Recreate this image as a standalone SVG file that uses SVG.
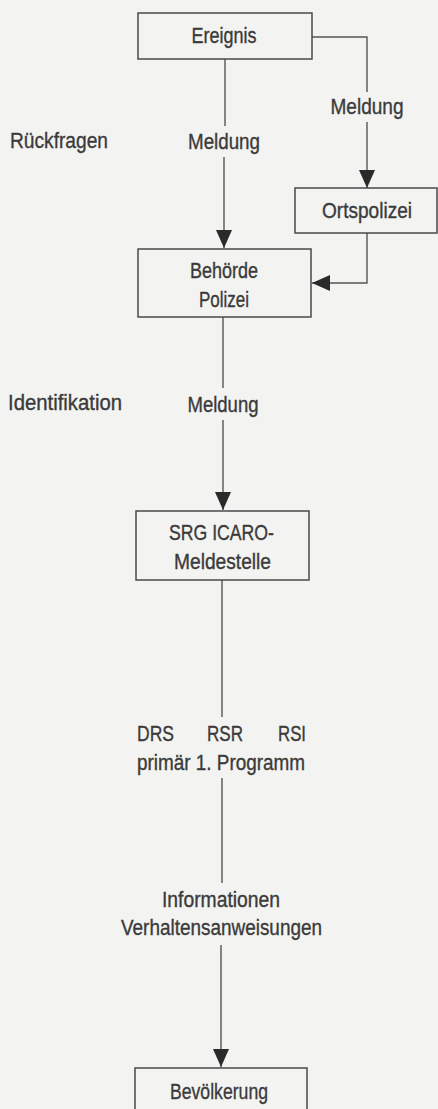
<svg xmlns="http://www.w3.org/2000/svg" width="438" height="1109" viewBox="0 0 438 1109">
<style>
.box{fill:none;stroke:#4a4a4a;stroke-width:1.5}
.ln{fill:none;stroke:#555;stroke-width:1.4}
text{font-family:"Liberation Sans","Noto Sans",sans-serif;font-size:22px;fill:#3a3a3a;stroke:#3a3a3a;stroke-width:0.35}
.c{text-anchor:middle}
</style>
<defs>
<marker id="ah" viewBox="0 0 18 16" refX="18" refY="8" markerWidth="18" markerHeight="16" markerUnits="userSpaceOnUse" orient="auto">
<path d="M0,0 L18,8 L0,16 z" fill="#2a2a2a"/>
</marker>
</defs>
<rect x="0" y="0" width="438" height="1109" fill="#f3f3f1"/>
<g id="connectors">
<path class="ln" d="M312,37 H367 V92"/>
<path class="ln" d="M367,122 V188" marker-end="url(#ah)"/>
<path class="ln" d="M225,59 V126"/>
<path class="ln" d="M224,157 V248" marker-end="url(#ah)"/>
<path class="ln" d="M367,233 V283 H312" marker-end="url(#ah)"/>
<path class="ln" d="M223,317 V388"/>
<path class="ln" d="M223,420 V510" marker-end="url(#ah)"/>
<path class="ln" d="M222,580 V717"/>
<path class="ln" d="M222,778 V883"/>
<path class="ln" d="M221,945 V1067" marker-end="url(#ah)"/>
</g>
<g id="labels">
<text x="367" y="114" class="c" textLength="73" lengthAdjust="spacingAndGlyphs">Meldung</text>
<text x="10" y="148" textLength="98" lengthAdjust="spacingAndGlyphs">Rückfragen</text>
<text x="224" y="149" class="c" textLength="72" lengthAdjust="spacingAndGlyphs">Meldung</text>
<text x="8" y="410" textLength="114" lengthAdjust="spacingAndGlyphs">Identifikation</text>
<text x="223" y="412" class="c" textLength="71" lengthAdjust="spacingAndGlyphs">Meldung</text>
<text x="137" y="741" textLength="37" lengthAdjust="spacingAndGlyphs">DRS</text>
<text x="207" y="741" textLength="36" lengthAdjust="spacingAndGlyphs">RSR</text>
<text x="278" y="741" textLength="28" lengthAdjust="spacingAndGlyphs">RSI</text>
<text x="137" y="770" textLength="168" lengthAdjust="spacingAndGlyphs">primär 1. Programm</text>
<text x="221" y="907" class="c" textLength="118" lengthAdjust="spacingAndGlyphs">Informationen</text>
<text x="221.5" y="935" class="c" textLength="201" lengthAdjust="spacingAndGlyphs">Verhaltensanweisungen</text>
</g>
<g id="ereignis">
<rect class="box" x="138" y="13" width="174" height="46"/>
<text x="224" y="43" class="c" textLength="65" lengthAdjust="spacingAndGlyphs">Ereignis</text>
</g>
<g id="ortspolizei">
<rect class="box" x="295" y="188" width="142" height="45"/>
<text x="367" y="218" class="c" textLength="90" lengthAdjust="spacingAndGlyphs">Ortspolizei</text>
</g>
<g id="behoerde">
<rect class="box" x="138" y="249" width="173" height="68"/>
<text x="224" y="278" class="c" textLength="68" lengthAdjust="spacingAndGlyphs">Behörde</text>
<text x="224" y="307" class="c" textLength="50" lengthAdjust="spacingAndGlyphs">Polizei</text>
</g>
<g id="srg">
<rect class="box" x="136" y="511" width="173" height="69"/>
<text x="221.5" y="540" class="c" textLength="105" lengthAdjust="spacingAndGlyphs">SRG ICARO-</text>
<text x="222.5" y="569" class="c" textLength="97" lengthAdjust="spacingAndGlyphs">Meldestelle</text>
</g>
<g id="bevoelkerung">
<rect class="box" x="135" y="1068" width="172" height="50"/>
<text x="219" y="1099" class="c" textLength="98" lengthAdjust="spacingAndGlyphs">Bevölkerung</text>
</g>
</svg>
